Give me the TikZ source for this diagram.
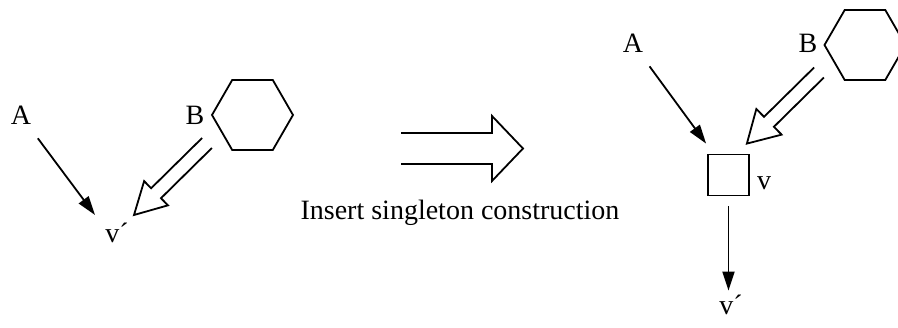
\documentclass[tikz,border=0pt]{standalone}
\usepackage{fontspec}
\setmainfont{Liberation Serif}
\usepackage{tikz}
\usetikzlibrary{arrows.meta}
\usetikzlibrary{calc}
\usetikzlibrary{shapes.geometric}

\tikzset{
	lbl/.style={font=\fontsize{28}{33}\selectfont, inner sep=2pt, anchor=base},
	ring/.style={draw, regular polygon, regular polygon sides=6, minimum size=81pt, inner sep=0pt},
	box/.style={draw, minimum size=41pt, inner sep=0pt},
	arr/.style={-{Triangle[length=19pt, width=12pt]}},
}

% open-tailed fat arrow: tail, tip, half shaft, half head, head length
\newcommand{\hollowarrow}[5]{%
	\coordinate (ha-base) at ($(#2)!#5!(#1)$);
	\draw ($(#1)!#3!90:(#2)$) -- ($(ha-base)!#3!90:(#2)$)
		-- ($(ha-base)!#4!90:(#2)$) -- (#2)
		-- ($(ha-base)!#4!-90:(#2)$) -- ($(ha-base)!#3!-90:(#2)$)
		-- ($(#1)!#3!-90:(#2)$);
}

\begin{document}
\begin{tikzpicture}[x=1pt, y=1pt, line width=1.8pt]
		\useasboundingbox (0,0) rectangle (898,328);

		% Before
		\node[lbl] (A) at (21,203) {A};
		\node[lbl] (B) at (195,203) {B};
		\node[ring] (hexL) at (252.5,213) {};
		\node[lbl] (vpL) at (117,85) {v´};
		\coordinate (vpA) at ([shift={(-22,28)}]vpL.base);
		\coordinate (vpB) at ([shift={(17,28)}]vpL.base);
		\coordinate (Btail) at ([shift={(12,-18)}]B.base);
		\draw[arr, shorten <=13pt] (A) -- (vpA);
		\hollowarrow{Btail}{vpB}{7pt}{17pt}{31pt}

		% Transformation
		\coordinate (bigtail) at (401,179.5);
		\coordinate (bigtip) at (523,179.5);
		\hollowarrow{bigtail}{bigtip}{15.5pt}{32.5pt}{31pt}
		\node[lbl] (ins) at (460,108) {Insert singleton construction};

		% After
		\node[lbl] (A2) at (633,275) {A};
		\node[lbl] (B2) at (808,275) {B};
		\node[ring] (hexR) at (865,283) {};
		\node[box] (sq) at (728.5,153) {};
		\node[lbl] (v) at (764,138) {v};
		\node[lbl] (vpR) at (731,13) {v´};
		\coordinate (sqA) at ([shift={(-1,10)}]sq.north west);
		\coordinate (sqB) at ([shift={(-3,10)}]sq.north east);
		\coordinate (B2tail) at ([shift={(11,-19.5)}]B2.base);
		\draw[arr, shorten <=13pt] (A2) -- (sqA);
		\hollowarrow{B2tail}{sqB}{7pt}{18pt}{31pt}
		\draw[arr, shorten <=10pt, shorten >=2pt] (sq.south) -- (sq.south |- vpR.north);
\end{tikzpicture}
\end{document}
